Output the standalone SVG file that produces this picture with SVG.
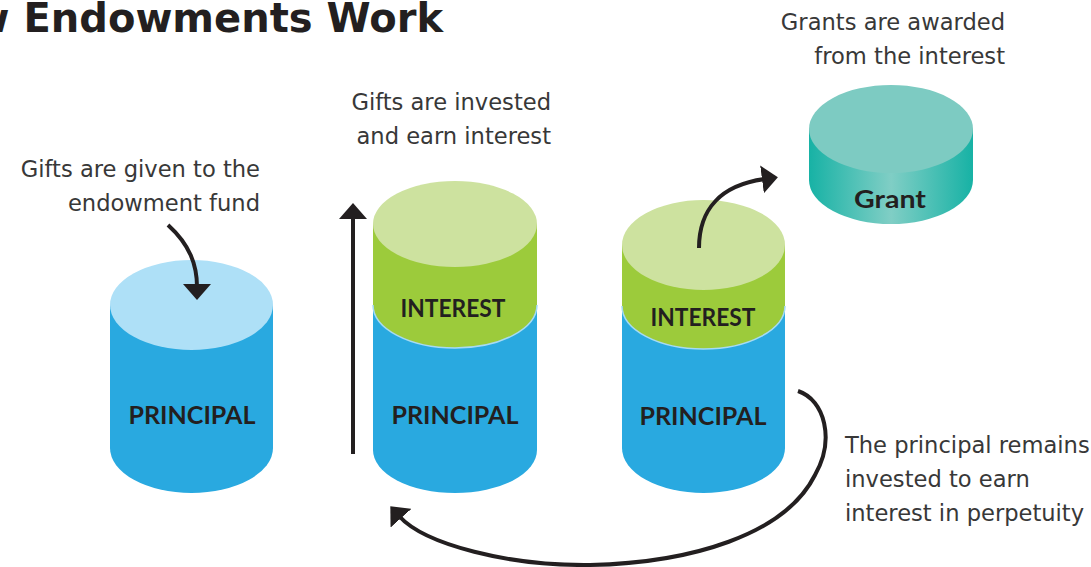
<svg xmlns="http://www.w3.org/2000/svg" width="1091" height="567" viewBox="0 0 1091 567">
<style>
.body{font-family:"DejaVu Sans","Liberation Sans",sans-serif;font-size:22.6px;fill:#383838}
.lbl{font-family:Lato,"Liberation Sans",sans-serif;font-weight:bold;font-size:25px;fill:#231f20;text-anchor:middle}
.title{font-family:"DejaVu Sans","Liberation Sans",sans-serif;font-weight:bold;font-size:40px;fill:#231f20}
.blue{fill:#29a9e0}
.blueTop{fill:#aee0f7}
.green{fill:#9ccb3b}
.greenTop{fill:#cde29f}
.seam{fill:none;stroke:#a6dbf4;stroke-width:1.5}
.conn{fill:none;stroke:#231f20;stroke-width:4}
</style>
<defs>
<marker id="ah" viewBox="0 0 16 28" refX="3" refY="14" markerWidth="16" markerHeight="28" markerUnits="userSpaceOnUse" orient="auto">
<path d="M0,0 L16,14 L0,28 Z" fill="#231f20"/>
</marker>
<linearGradient id="tealSide" x1="0" y1="0" x2="1" y2="0">
<stop offset="0" stop-color="#17b2a5"/>
<stop offset="0.5" stop-color="#80cec5"/>
<stop offset="1" stop-color="#17b2a5"/>
</linearGradient>
</defs>
<rect width="1091" height="567" fill="#ffffff"/>
<text class="title" x="443" y="32" text-anchor="end">How Endowments Work</text>

<g id="cyl1">
<path class="blue" d="M110,305 L110,448 A81.5,45 0 0 0 273,448 L273,305 Z"/>
<ellipse class="blueTop" cx="191.5" cy="305" rx="81.5" ry="45"/>
<text class="lbl" x="192" y="424" textLength="127" lengthAdjust="spacingAndGlyphs">PRINCIPAL</text>
</g>

<g id="cyl2">
<path class="blue" d="M373,305 L373,450 A82,43 0 0 0 537,450 L537,305 Z"/>
<path class="green" d="M373,224 L373,305 A82,43 0 0 0 537,305 L537,224 Z"/>
<path class="seam" d="M373,305 A82,43 0 0 0 537,305"/>
<ellipse class="greenTop" cx="455" cy="224" rx="82" ry="43"/>
<text class="lbl" x="453" y="317" textLength="105" lengthAdjust="spacingAndGlyphs">INTEREST</text>
<text class="lbl" x="455" y="424" textLength="127" lengthAdjust="spacingAndGlyphs">PRINCIPAL</text>
</g>

<g id="cyl3">
<path class="blue" d="M622,306 L622,448 A81.5,45 0 0 0 785,448 L785,306 Z"/>
<path class="green" d="M622,245 L622,306 A81.5,43 0 0 0 785,306 L785,245 Z"/>
<path class="seam" d="M622,306 A81.5,43 0 0 0 785,306"/>
<ellipse class="greenTop" cx="703.5" cy="245" rx="81.5" ry="45"/>
<text class="lbl" x="703" y="326" textLength="105" lengthAdjust="spacingAndGlyphs">INTEREST</text>
<text class="lbl" x="703" y="425" textLength="127" lengthAdjust="spacingAndGlyphs">PRINCIPAL</text>
</g>

<g id="grant">
<path d="M809,129 L809,180 A82,44 0 0 0 973,180 L973,129 Z" fill="url(#tealSide)"/>
<ellipse cx="891" cy="129" rx="82" ry="44" fill="#7dcbc2"/>
<text class="lbl" x="890" y="208" textLength="72" lengthAdjust="spacingAndGlyphs">Grant</text>
</g>

<g id="notes">
<text class="body" text-anchor="end"><tspan x="260" y="177">Gifts are given to the</tspan><tspan x="260" y="211">endowment fund</tspan></text>
<text class="body" text-anchor="end"><tspan x="551" y="110">Gifts are invested</tspan><tspan x="551" y="144">and earn interest</tspan></text>
<text class="body" text-anchor="end"><tspan x="1005" y="30">Grants are awarded</tspan><tspan x="1005" y="64">from the interest</tspan></text>
<text class="body"><tspan x="845" y="453">The principal remains</tspan><tspan x="845" y="487">invested to earn</tspan><tspan x="845" y="521">interest in perpetuity</tspan></text>
</g>

<g id="connectors">
<path class="conn" d="M168,225 C190,245 197,265 197,287" marker-end="url(#ah)"/>
<path class="conn" d="M353,454 L353,216" marker-end="url(#ah)"/>
<path class="conn" d="M699,248 C699,210 720,185 765,179" marker-end="url(#ah)"/>
<path class="conn" d="M798,391 C825,400 835,440 815,475 C785,535 690,563 590,565 C510,566 425,545 399,516" marker-end="url(#ah)"/>
</g>
</svg>
